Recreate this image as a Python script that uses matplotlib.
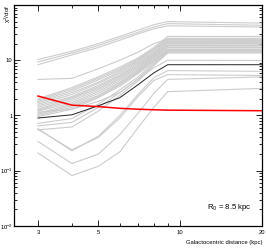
import matplotlib
matplotlib.use("Agg")
import matplotlib.pyplot as plt
from matplotlib import font_manager
from matplotlib.ticker import FixedLocator, FixedFormatter, LogLocator, NullFormatter

# Galactocentric distance (kpc)
x = [3, 4, 5, 6, 7, 8, 9, 20]

# gray model curves (chi^2/dof)
gray_lines = [
    [10.3, 14.5, 20, 27, 35, 44, 50, 47],
    [9.3, 13.5, 18.5, 25, 32, 40, 46, 43],
    [8.3, 12.5, 17, 23, 30, 37, 42, 40],
    [4.5, 4.7, 7.0, 10, 14, 20, 24, 23],
    [2.0, 3.2, 5.0, 7.5, 11, 17, 27, 27],
    [1.9, 3.0, 4.7, 7.0, 10.5, 16, 25, 25],
    [1.8, 2.8, 4.4, 6.6, 10, 15.5, 24, 24],
    [1.7, 2.6, 4.0, 6.2, 9.5, 15, 23, 23],
    [1.6, 2.4, 3.8, 5.8, 9.0, 14, 22, 22],
    [1.5, 2.2, 3.5, 5.4, 8.5, 13.5, 21, 21],
    [1.4, 2.1, 3.3, 5.2, 8.0, 13, 20, 20],
    [1.3, 2.0, 3.1, 4.9, 7.6, 12.5, 19, 19],
    [1.25, 1.85, 2.9, 4.6, 7.2, 12, 18.5, 18.5],
    [1.2, 1.7, 2.7, 4.3, 6.8, 11.5, 18, 18],
    [1.1, 1.6, 2.5, 4.0, 6.5, 11, 17, 17],
    [1.05, 1.5, 2.3, 3.8, 6.2, 10.5, 16, 16],
    [1.0, 1.4, 2.2, 3.6, 6.0, 10, 15.5, 15.5],
    [0.95, 1.3, 2.1, 3.4, 5.7, 9.5, 15, 15],
    [0.72, 0.88, 1.6, 2.9, 5.0, 9.0, 14.5, 14.5],
    [0.65, 0.75, 1.4, 2.6, 4.6, 8.5, 14, 14],
    [0.55, 0.62, 1.2, 2.3, 4.2, 8.0, 13.5, 13.5],
    [1.15, 1.3, 1.8, 2.6, 4.5, 7.3, 10.0, 9.9],
    [0.58, 0.23, 0.42, 1.0, 2.4, 4.8, 6.5, 6.3],
    [0.56, 0.24, 0.40, 0.9, 2.2, 4.3, 5.5, 5.3],
    [0.34, 0.135, 0.20, 0.45, 1.1, 2.5, 4.5, 5.0],
    [0.21, 0.082, 0.12, 0.22, 0.6, 1.4, 2.7, 3.1],
]

black_line = [0.9, 1.03, 1.5, 2.1, 3.6, 5.9, 8.3, 8.3]
red_line = [2.25, 1.54, 1.45, 1.35, 1.30, 1.27, 1.25, 1.22]

xtick_vals = [3, 5, 10, 20]
xtick_labels = ["3", "5", "10", "20"]
ytick_vals = [0.01, 0.1, 1, 10]
ytick_labels = ["10$^{-2}$", "10$^{-1}$", "1", "10"]

plt.rcParams['font.family'] = ['Liberation Sans Narrow', 'Liberation Sans', 'DejaVu Sans']
plt.rcParams['mathtext.fontset'] = 'custom'
plt.rcParams['mathtext.rm'] = 'Liberation Sans'

fig = plt.figure(figsize=(2.66, 2.49), dpi=100)
ax = fig.add_axes([14/266, 23/249, 248/266, 221/249])

for g in gray_lines:
    ax.plot(x, g, color='#cccccc', lw=0.8, solid_joinstyle='miter')
ax.plot(x, black_line, color='#222222', lw=0.7)
ax.plot(x, red_line, color='#ff0000', lw=1.1)

ax.set_xscale('log')
ax.set_yscale('log')
ax.set_xlim(2.45, 20)
ax.set_ylim(0.01, 100)

ax.xaxis.set_major_locator(FixedLocator(xtick_vals))
ax.xaxis.set_major_formatter(FixedFormatter(xtick_labels))
ax.xaxis.set_minor_locator(FixedLocator([4, 6, 7, 8, 9]))
ax.xaxis.set_minor_formatter(NullFormatter())
ax.yaxis.set_major_locator(FixedLocator(ytick_vals + [100]))
ax.yaxis.set_major_formatter(FixedFormatter(ytick_labels + [""]))
ax.yaxis.set_minor_locator(LogLocator(base=10, subs=range(2, 10)))
ax.yaxis.set_minor_formatter(NullFormatter())

ax.tick_params(which='both', direction='in', top=True, right=True, width=0.6,
               labelsize=4.2, colors='black')
ax.tick_params(axis='y', pad=1)
ax.tick_params(axis='x', pad=3)
ax.tick_params(which='major', length=4)
ax.tick_params(which='minor', length=2.2)
for s in ax.spines.values():
    s.set_linewidth(0.9)

fig.text(8/266, 1 - 14/249, "χ$^2$/dof", rotation=90, ha='center', va='center',
         fontsize=4.5)
fig.text(263/266, 1 - 242/249, "Galactocentric distance (kpc)", ha='right',
         va='center', fontsize=4.2)
ax.text(229/266, 1 - 207/249, "R$_0$ = 8.5 kpc", transform=fig.transFigure,
        ha='center', va='center', fontsize=5.6)

fig.savefig("out.png", dpi=100)
